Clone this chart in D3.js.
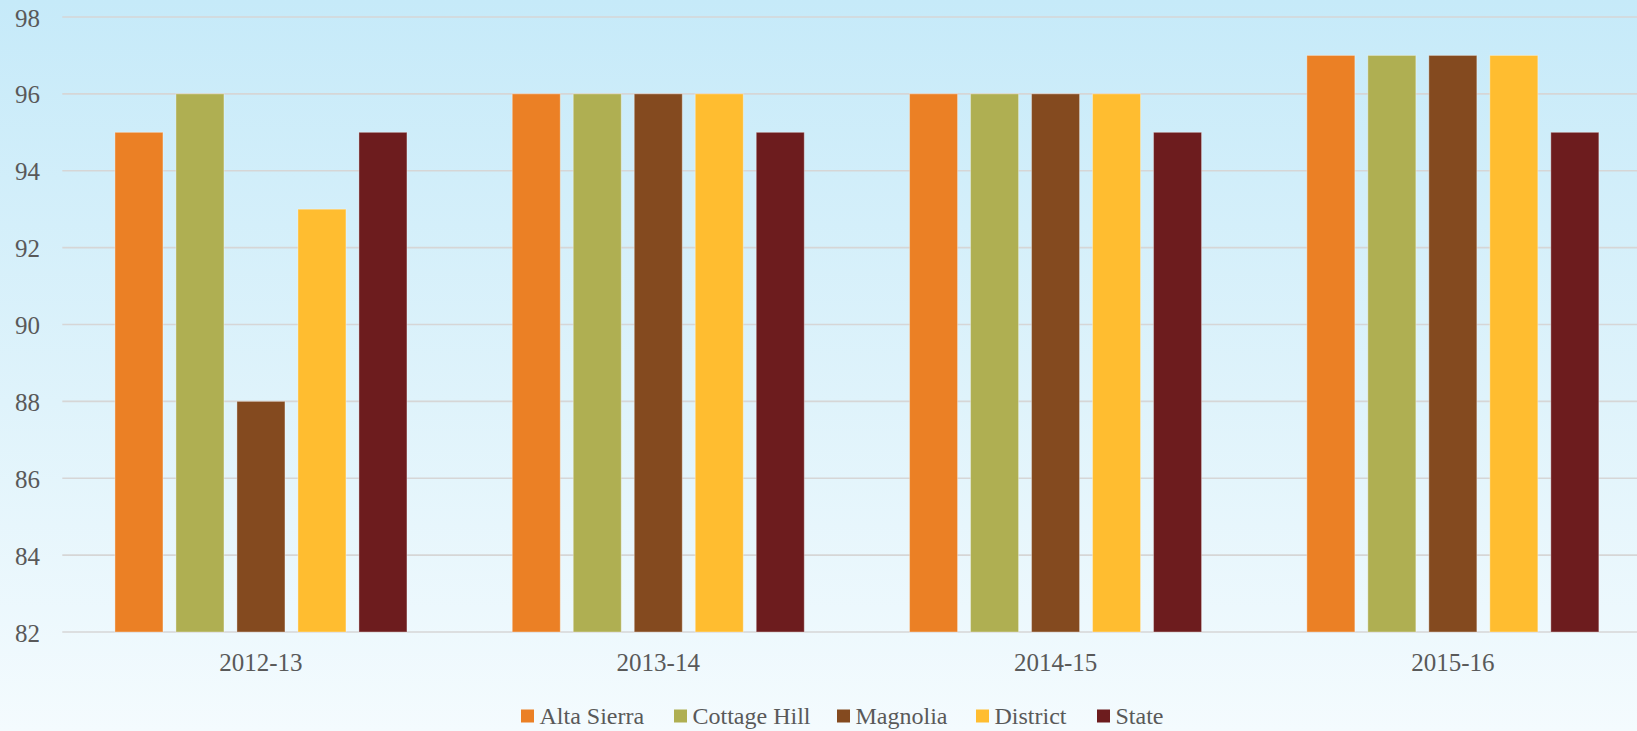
<!DOCTYPE html>
<html>
<head>
<meta charset="utf-8">
<script src="https://cdnjs.cloudflare.com/ajax/libs/d3/7.8.5/d3.min.js"></script>
<style>
  html, body { margin: 0; padding: 0; overflow: hidden; }
  svg { display: block; }
</style>
</head>
<body>
<svg id="chart" width="1637" height="731"></svg>
<script>
// Attendance-style percentages by school year
const years = ["2012-13", "2013-14", "2014-15", "2015-16"];
const series = ["Alta Sierra", "Cottage Hill", "Magnolia", "District", "State"];
const altaSierra  = [95, 96, 96, 97];
const cottageHill = [96, 96, 96, 97];
const magnolia    = [88, 96, 96, 97];
const district    = [93, 96, 96, 97];
const state       = [95, 95, 95, 95];
const yTicks = [82, 84, 86, 88, 90, 92, 94, 96, 98];
const colors = ["#EB8025", "#AFAF52", "#844A1F", "#FFBD30", "#6D1C1E"];

const seriesValues = [altaSierra, cottageHill, magnolia, district, state];
const rows = years.map((yr, i) => ({
  year: yr,
  values: series.map((s, j) => ({ key: s, value: seriesValues[j][i], color: colors[j] }))
}));

const W = 1637, H = 731;
const svg = d3.select("#chart");
const font = "'Liberation Serif', 'Times New Roman', serif";
const textColor = "#595959";

// background gradient
const defs = svg.append("defs");
const grad = defs.append("linearGradient").attr("id", "bg")
  .attr("x1", 0).attr("y1", 0).attr("x2", 0).attr("y2", 1);
grad.append("stop").attr("offset", "0%").attr("stop-color", "#C6EAF9");
grad.append("stop").attr("offset", "55%").attr("stop-color", "#DFF3FB");
grad.append("stop").attr("offset", "100%").attr("stop-color", "#F4FBFE");
svg.append("rect").attr("width", W).attr("height", H).attr("fill", "url(#bg)");

// plot area (runs slightly past the right edge)
const plotLeft = 62.3, plotRight = 1651.5, plotTop = 17, plotBottom = 632;

const x0 = d3.scaleBand().domain(years).range([plotLeft, plotRight]).padding(0);
const groupPad = (x0.bandwidth() - 292) / 2;
const x1 = d3.scaleBand().domain(series)
  .range([groupPad, x0.bandwidth() - groupPad])
  .paddingInner(0.213).paddingOuter(0);
const y = d3.scaleLinear().domain([82, 98]).range([plotBottom, plotTop]);

// gridlines
svg.append("g").selectAll("line").data(yTicks).join("line")
  .attr("x1", plotLeft).attr("x2", W)
  .attr("y1", d => y(d)).attr("y2", d => y(d))
  .attr("stroke", "#D6D6D6").attr("stroke-width", 1.6);

// y-axis labels
const yAxis = d3.axisLeft(y).tickValues(yTicks).tickSize(0).tickPadding(0);
const yg = svg.append("g").attr("transform", "translate(40,0)").call(yAxis);
yg.select(".domain").remove();
yg.selectAll("text")
  .attr("font-family", font).attr("font-size", 25).attr("fill", textColor)
  .attr("dy", "0.36em");

// bars
const groups = svg.append("g").selectAll("g").data(rows).join("g")
  .attr("transform", d => `translate(${x0(d.year)},0)`);
groups.selectAll("rect").data(d => d.values).join("rect")
  .attr("x", d => x1(d.key))
  .attr("width", x1.bandwidth())
  .attr("y", d => y(d.value))
  .attr("height", d => y(82) - y(d.value))
  .attr("fill", d => d.color)
  .attr("stroke", "rgba(255,255,255,0.35)")
  .attr("stroke-width", 1);

// x-axis labels
const xAxis = d3.axisBottom(x0).tickSize(0).tickPadding(0);
const xg = svg.append("g").attr("transform", `translate(0,${plotBottom})`).call(xAxis);
xg.select(".domain").remove();
xg.selectAll("text")
  .attr("font-family", font).attr("font-size", 25).attr("fill", textColor)
  .attr("y", 38.5).attr("dy", 0);

// legend: swatch + label, items laid out left to right
const legendSlots = [521, 674, 837, 976, 1097];
const legend = svg.append("g");
series.forEach((s, i) => {
  const lx = legendSlots[i];
  legend.append("rect")
    .attr("x", lx).attr("y", 709.5).attr("width", 13).attr("height", 13)
    .attr("fill", colors[i]);
  legend.append("text")
    .attr("x", lx + 18.5).attr("y", 724)
    .attr("font-family", font).attr("font-size", 24).attr("fill", textColor)
    .text(s);
});
</script>
</body>
</html>
